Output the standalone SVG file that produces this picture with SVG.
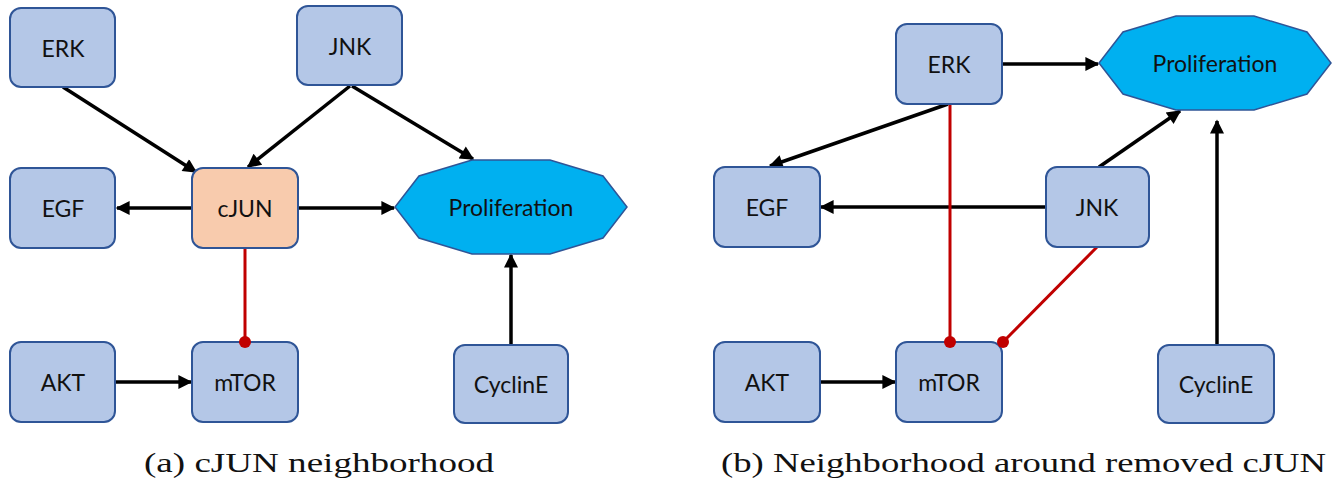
<svg xmlns="http://www.w3.org/2000/svg" width="1341" height="487" viewBox="0 0 1341 487">
  <style>
    .box { fill: #B4C7E7; stroke: #2F5597; stroke-width: 2; }
    .hub { fill: #F8CBAD; stroke: #2F5597; stroke-width: 2; }
    .goal { fill: #00B0F0; stroke: #2F5597; stroke-width: 1.5; }
    .lbl { font-family: Lato, "Liberation Sans", sans-serif; font-size: 23px; fill: #111; text-anchor: middle; dominant-baseline: central; }
    .act { stroke: #000; stroke-width: 3.5; fill: none; marker-end: url(#arrow); }
    .inh { stroke: #C00000; stroke-width: 3; fill: none; }
    .knob { fill: #C00000; }
    .cap { font-family: "Liberation Serif", "DejaVu Serif", serif; font-size: 28px; fill: #111; }
  </style>
  <defs>
    <marker id="arrow" viewBox="0 0 10 10" refX="9" refY="5" markerWidth="16" markerHeight="14" orient="auto" markerUnits="userSpaceOnUse">
      <path d="M0,0 L10,5 L0,10 Z" fill="#000"/>
    </marker>
    <polygon id="decagon" points="-39,-47 39,-47 92,-31 116,0 92,31 39,47 -39,47 -92,31 -116,0 -92,-31"/>
  </defs>

  <rect width="1341" height="487" fill="#fff"/>

  <!-- connectors -->
  <g id="connectors">
    <!-- panel a -->
    <line class="act" x1="63" y1="87" x2="196" y2="172"/>
    <line class="act" x1="350" y1="86" x2="248" y2="167"/>
    <line class="act" x1="352" y1="86" x2="473" y2="159"/>
    <line class="act" x1="192" y1="208" x2="117" y2="208"/>
    <line class="act" x1="298" y1="208" x2="394" y2="208"/>
    <line class="act" x1="115" y1="382" x2="191" y2="382"/>
    <line class="act" x1="511" y1="345" x2="511" y2="255"/>
    <line class="inh" x1="245" y1="248" x2="245" y2="342"/>
    <!-- panel b -->
    <line class="act" x1="1002" y1="64" x2="1098" y2="64"/>
    <line class="act" x1="948" y1="104" x2="770" y2="166"/>
    <line class="act" x1="1046" y1="207" x2="821" y2="207"/>
    <line class="act" x1="1099" y1="167" x2="1180" y2="111"/>
    <line class="act" x1="1217" y1="345" x2="1217" y2="121"/>
    <line class="act" x1="820" y1="382" x2="895" y2="382"/>
    <line class="inh" x1="950" y1="104" x2="950" y2="342"/>
    <line class="inh" x1="1097" y1="247" x2="1003" y2="342"/>
  </g>

  <!-- panel a nodes -->
  <g id="a-ERK"><rect class="box" x="10" y="8" width="105" height="79" rx="11"/><text class="lbl" x="63" y="48">ERK</text></g>
  <g id="a-JNK"><rect class="box" x="297" y="6" width="105" height="79" rx="11"/><text class="lbl" x="350" y="46">JNK</text></g>
  <g id="a-EGF"><rect class="box" x="10" y="168" width="105" height="80" rx="11"/><text class="lbl" x="63" y="208">EGF</text></g>
  <g id="a-cJUN"><rect class="hub" x="192" y="168" width="106" height="80" rx="11"/><text class="lbl" x="245" y="208">cJUN</text></g>
  <g id="a-Proliferation"><use href="#decagon" class="goal" x="511" y="207"/><text class="lbl" x="511" y="207">Proliferation</text></g>
  <g id="a-AKT"><rect class="box" x="10" y="342" width="105" height="80" rx="11"/><text class="lbl" x="63" y="382">AKT</text></g>
  <g id="a-mTOR"><rect class="box" x="192" y="342" width="106" height="80" rx="11"/><text class="lbl" x="245" y="382">mTOR</text></g>
  <g id="a-CyclinE"><rect class="box" x="454" y="345" width="114" height="78" rx="11"/><text class="lbl" x="511" y="384">CyclinE</text></g>

  <!-- panel b nodes -->
  <g id="b-ERK"><rect class="box" x="896" y="24" width="106" height="80" rx="11"/><text class="lbl" x="949" y="64">ERK</text></g>
  <g id="b-Proliferation"><use href="#decagon" class="goal" x="1215" y="63"/><text class="lbl" x="1215" y="63">Proliferation</text></g>
  <g id="b-EGF"><rect class="box" x="714" y="167" width="106" height="80" rx="11"/><text class="lbl" x="767" y="207">EGF</text></g>
  <g id="b-JNK"><rect class="box" x="1046" y="167" width="103" height="80" rx="11"/><text class="lbl" x="1097" y="207">JNK</text></g>
  <g id="b-AKT"><rect class="box" x="714" y="342" width="106" height="80" rx="11"/><text class="lbl" x="767" y="382">AKT</text></g>
  <g id="b-mTOR"><rect class="box" x="896" y="342" width="106" height="80" rx="11"/><text class="lbl" x="949" y="382">mTOR</text></g>
  <g id="b-CyclinE"><rect class="box" x="1158" y="345" width="116" height="78" rx="11"/><text class="lbl" x="1216" y="384">CyclinE</text></g>

  <!-- inhibition endpoints drawn over the node borders -->
  <g id="inhibition-ends">
    <circle class="knob" cx="245" cy="342" r="6"/>
    <circle class="knob" cx="950" cy="342" r="6"/>
    <circle class="knob" cx="1003" cy="342" r="6"/>
  </g>

  <!-- captions -->
  <g id="captions">
    <text class="cap" x="144" y="472" textLength="350" lengthAdjust="spacingAndGlyphs">(a) cJUN neighborhood</text>
    <text class="cap" x="721" y="472" textLength="605" lengthAdjust="spacingAndGlyphs">(b) Neighborhood around removed cJUN</text>
  </g>
</svg>
